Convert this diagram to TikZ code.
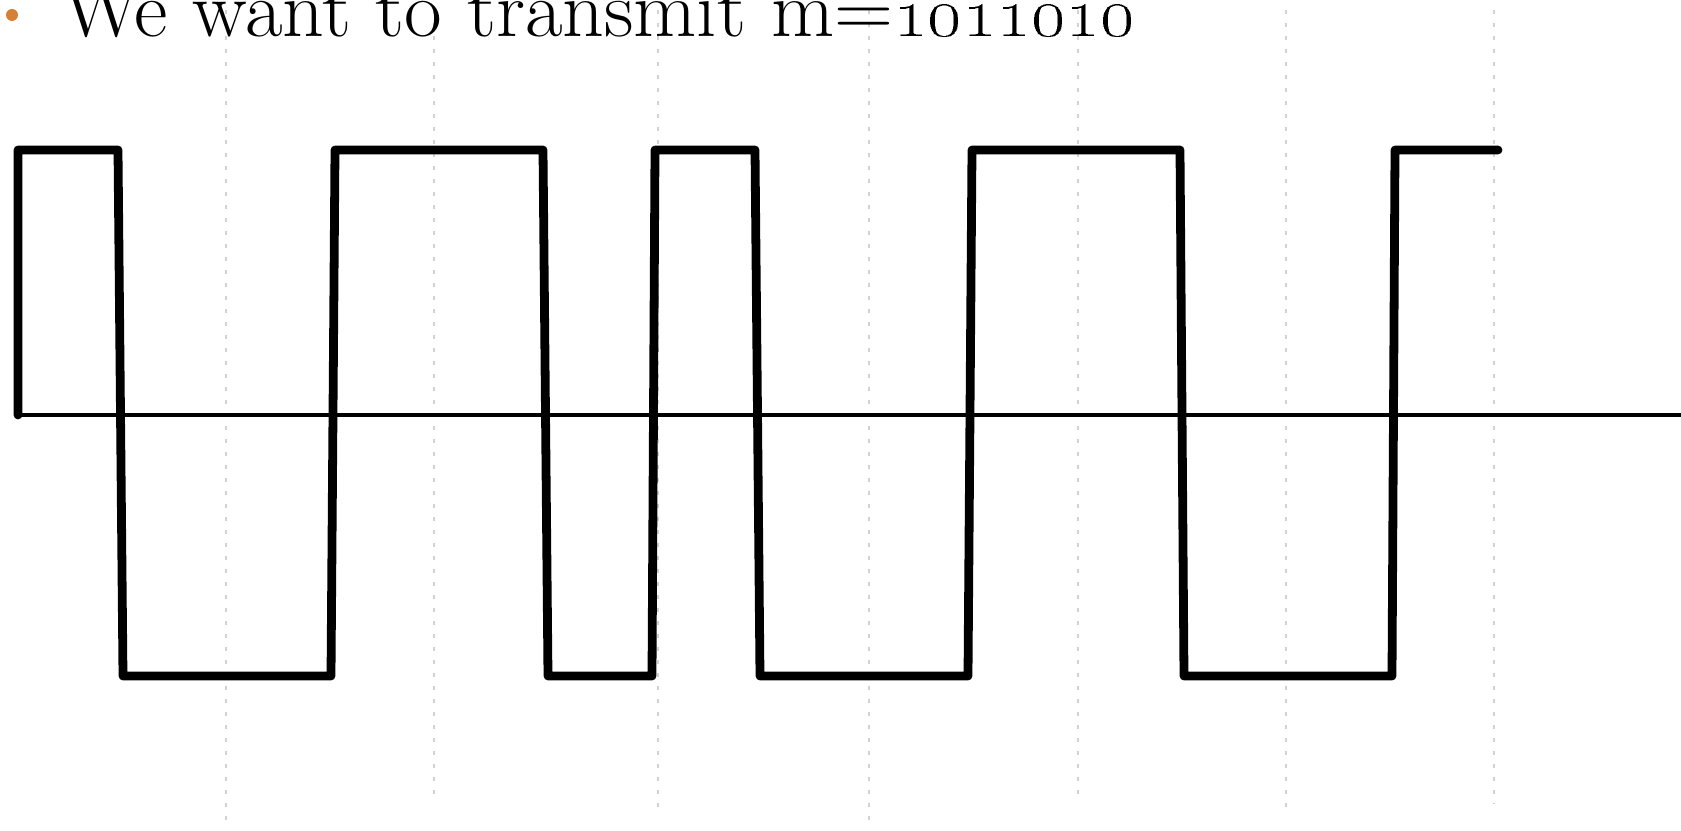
\documentclass[tikz,border=0pt]{standalone}
\usepackage{graphicx}
\usepackage{tikz}
\definecolor{bulletorange}{RGB}{214,128,52}

\begin{document}
\begin{tikzpicture}[
		x=0.01cm, y=-0.01cm,
		signal/.style={line width=2.5pt, line join=round, line cap=round},
		axisline/.style={line width=1.3pt},
		gridline/.style={gray!35, line width=0.6pt, dash pattern=on 0.04cm off 0.09cm},
		bullet/.style={circle, fill=bulletorange, inner sep=0pt, minimum size=0.12cm}
		]
		
		% --------------------------------------------------
		% Frame
		% --------------------------------------------------
		\useasboundingbox (0,0) rectangle (1681,831);
		\clip (0,0) rectangle (1681,831);
		
		% --------------------------------------------------
		% Bit boundaries (dotted)
		% --------------------------------------------------
		\foreach \bx/\by in {226/820, 434/799, 658/809, 869/825, 1078/799, 1286/815, 1494/804}
		\draw[gridline] (\bx,10) -- (\bx,\by);
		
		% --------------------------------------------------
		% Heading line
		% --------------------------------------------------
		\node[bullet] (dot) at (12,15) {};
		\node[anchor=base west, inner sep=0pt, font=\fontsize{22.7}{26}\selectfont] (msg) at (62,37)
		{\scalebox{1.025}[1]{We want to transmit m=\oldstylenums{1011010}}};
		
		% --------------------------------------------------
		% Time axis
		% --------------------------------------------------
		\coordinate (O) at (18,415);
		\coordinate (E) at (1681,415);
		\draw[axisline] (O) -- (E);
		
		% --------------------------------------------------
		% Manchester waveform
		% --------------------------------------------------
		\draw[signal] (O) -- (18,150) -- (118,150) -- (123,676) -- (331,676)
		-- (335,150) -- (543,150) -- (548,676) -- (652,676)
		-- (655,150) -- (755,150) -- (760,676) -- (968,676)
		-- (972,150) -- (1180,150) -- (1184,676) -- (1392,676)
		-- (1395,150) -- (1498,150);
		
	\end{tikzpicture}
\end{document}
